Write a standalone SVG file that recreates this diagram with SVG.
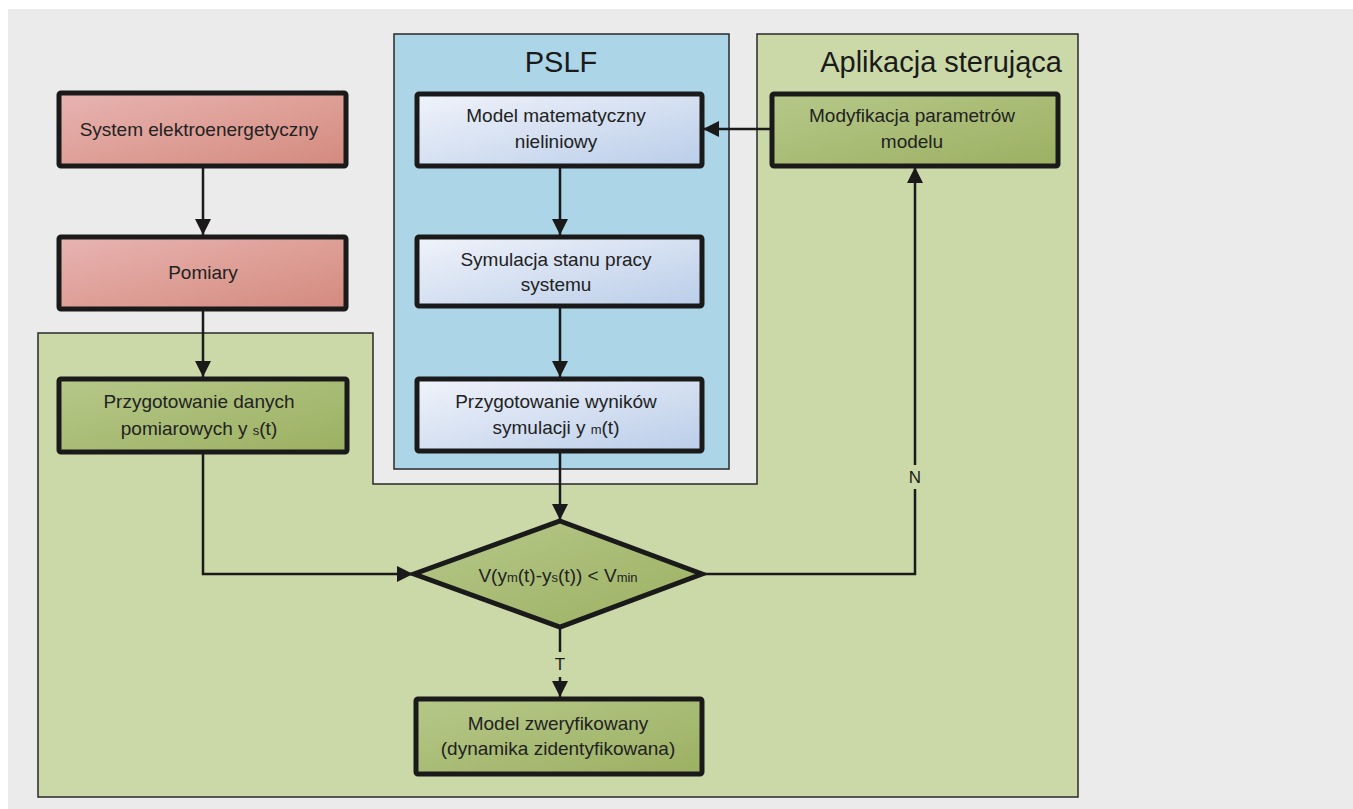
<svg xmlns="http://www.w3.org/2000/svg" width="1353" height="809" viewBox="0 0 1353 809">
<defs>
<linearGradient id="gRed" x1="0" y1="0" x2="1" y2="1"><stop offset="0" stop-color="#e8b4b1"/><stop offset="1" stop-color="#d48a7e"/></linearGradient>
<linearGradient id="gBlue" x1="0" y1="0" x2="1" y2="1"><stop offset="0" stop-color="#f0f3fa"/><stop offset="1" stop-color="#bacde9"/></linearGradient>
<linearGradient id="gGreen" x1="0" y1="0" x2="1" y2="1"><stop offset="0" stop-color="#b6c889"/><stop offset="1" stop-color="#9cb062"/></linearGradient>
<marker id="arr" viewBox="0 0 10 10" markerUnits="userSpaceOnUse" markerWidth="16" markerHeight="18" refX="10" refY="5" orient="auto"><path d="M0,0 L10,5 L0,10 z" fill="#1a1a1a"/></marker>
</defs>
<style>
.node{stroke:#1a1a1a;stroke-width:5}
.t{font-family:"Liberation Sans",Arial,sans-serif;font-size:19px;fill:#222;text-anchor:middle}
.title{font-family:"Liberation Sans",Arial,sans-serif;font-size:29px;fill:#1a1a1a}
.c{fill:none;stroke:#1a1a1a;stroke-width:2.5}
.lbl{font-family:"Liberation Sans",Arial,sans-serif;font-size:17px;fill:#1a1a1a;text-anchor:middle}
</style>
<rect x="0" y="0" width="1353" height="809" fill="#ffffff"/>
<rect x="8" y="9" width="1345" height="800" fill="#ebebeb"/>
<g id="app-container">
<path d="M38,333 L373,333 L373,484 L757,484 L757,34 L1078,34 L1078,797 L38,797 Z" fill="#cbd9a9" stroke="#2a2a2a" stroke-width="1.5"/>
<text class="title" x="1062" y="72" text-anchor="end">Aplikacja sterująca</text>
</g>
<g id="pslf-container">
<rect x="394" y="34" width="335" height="435" fill="#acd5e8" stroke="#2a2a2a" stroke-width="1.5"/>
<text class="title" x="561" y="72" text-anchor="middle">PSLF</text>
</g>
<g id="connectors">
<line class="c" x1="203" y1="167" x2="203" y2="235" marker-end="url(#arr)"/>
<line class="c" x1="203" y1="310" x2="203" y2="377" marker-end="url(#arr)"/>
<polyline class="c" points="203,453 203,574 413,574" marker-end="url(#arr)"/>
<line class="c" x1="560" y1="167" x2="560" y2="235" marker-end="url(#arr)"/>
<line class="c" x1="560" y1="307" x2="560" y2="377" marker-end="url(#arr)"/>
<line class="c" x1="560" y1="452" x2="560" y2="520" marker-end="url(#arr)"/>
<line class="c" x1="770" y1="129" x2="703" y2="129" marker-end="url(#arr)"/>
<polyline class="c" points="703,574 915,574 915,489"/>
<line class="c" x1="915" y1="465" x2="915" y2="167" marker-end="url(#arr)"/>
<text class="lbl" x="915" y="483">N</text>
<line class="c" x1="560" y1="628" x2="560" y2="652"/>
<line class="c" x1="560" y1="677" x2="560" y2="697" marker-end="url(#arr)"/>
<text class="lbl" x="560" y="670">T</text>
</g>
<g id="system">
<rect class="node" x="59" y="93" width="287" height="73" rx="2" fill="url(#gRed)"/>
<text class="t" x="199" y="136">System elektroenergetyczny</text>
</g>
<g id="pomiary">
<rect class="node" x="59" y="237" width="287" height="72" rx="2" fill="url(#gRed)"/>
<text class="t" x="203" y="279">Pomiary</text>
</g>
<g id="przygotowanie-danych">
<rect class="node" x="59" y="379" width="288" height="73" rx="2" fill="url(#gGreen)"/>
<text class="t" x="199" y="408">Przygotowanie danych</text>
<text class="t" x="199" y="435">pomiarowych y <tspan font-size="13">s</tspan>(t)</text>
</g>
<g id="model-matematyczny">
<rect class="node" x="417" y="94" width="285" height="72" rx="2" fill="url(#gBlue)"/>
<text class="t" x="556" y="122">Model matematyczny</text>
<text class="t" x="556" y="148">nieliniowy</text>
</g>
<g id="symulacja">
<rect class="node" x="417" y="237" width="285" height="69" rx="2" fill="url(#gBlue)"/>
<text class="t" x="556" y="266">Symulacja stanu pracy</text>
<text class="t" x="556" y="291">systemu</text>
</g>
<g id="przygotowanie-wynikow">
<rect class="node" x="417" y="379" width="285" height="72" rx="2" fill="url(#gBlue)"/>
<text class="t" x="556" y="408">Przygotowanie wyników</text>
<text class="t" x="556" y="434">symulacji y <tspan font-size="13">m</tspan>(t)</text>
</g>
<g id="modyfikacja">
<rect class="node" x="772" y="94" width="286" height="72" rx="2" fill="url(#gGreen)"/>
<text class="t" x="912" y="122">Modyfikacja parametrów</text>
<text class="t" x="912" y="148">modelu</text>
</g>
<g id="warunek">
<polygon class="node" points="560,521 702,574 560,627 414,574" fill="url(#gGreen)" stroke-linejoin="miter"/>
<text class="t" x="558" y="582">V(y<tspan font-size="13">m</tspan>(t)-y<tspan font-size="13">s</tspan>(t)) &lt; V<tspan font-size="13">min</tspan></text>
</g>
<g id="model-zweryfikowany">
<rect class="node" x="416" y="699" width="286" height="75" rx="2" fill="url(#gGreen)"/>
<text class="t" x="558" y="730">Model zweryfikowany</text>
<text class="t" x="558" y="755">(dynamika zidentyfikowana)</text>
</g>
</svg>
